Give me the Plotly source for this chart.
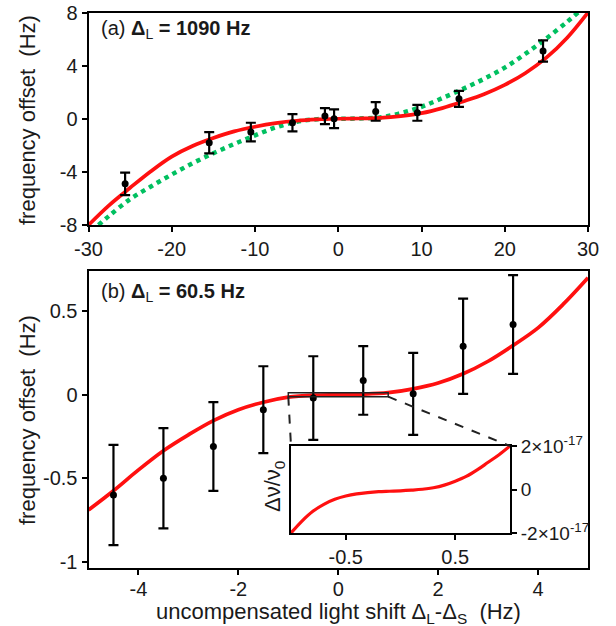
import plotly.graph_objects as go

# ---------------- data ----------------
# panel (a): Delta_L = 1090 Hz
a_x = [-25.6, -15.5, -10.5, -5.5, -1.6, -0.5, 4.5, 9.5, 14.5, 24.6]
a_y = [-4.9, -1.8, -1.0, -0.3, 0.2, 0.0, 0.55, 0.45, 1.5, 5.1]
a_err = [0.85, 0.8, 0.7, 0.65, 0.6, 0.7, 0.7, 0.6, 0.6, 0.8]

a_fit_x = [-30, -27.5, -25, -22.5, -20, -17.5, -15, -12.5, -10, -7.5, -5, -2.5, 0,
           2.5, 5, 7.5, 10, 12.5, 15, 17.5, 20, 22.5, 25, 27.5, 30]
a_fit_y = [-8.0, -6.5, -5.2, -3.95, -2.85, -2.05, -1.45, -0.95, -0.6, -0.33, -0.15, -0.05, 0.0,
           0.02, 0.07, 0.2, 0.42, 0.8, 1.3, 1.85, 2.55, 3.45, 4.6, 6.1, 8.0]

a_alt_x = [-28.8, -27.5, -25, -22.5, -20, -17.5, -15, -12.5, -10, -7.5, -5, -2.5, 0,
           2.5, 5, 7.5, 10, 12.5, 15, 17.5, 20, 22.5, 25, 27.5, 28.8]
a_alt_y = [-8.0, -7.3, -6.05, -5.1, -4.2, -3.35, -2.6, -1.9, -1.25, -0.65, -0.22, -0.03, 0.0,
           0.02, 0.1, 0.42, 0.9, 1.55, 2.25, 3.0, 3.85, 4.9, 6.05, 7.3, 8.0]

# panel (b): Delta_L = 60.5 Hz
b_x = [-4.5, -3.5, -2.5, -1.5, -0.5, 0.5, 1.5, 2.5, 3.5]
b_y = [-0.6, -0.5, -0.31, -0.09, -0.02, 0.085, 0.005, 0.29, 0.42]
b_err = [0.3, 0.3, 0.265, 0.26, 0.25, 0.205, 0.245, 0.285, 0.295]

b_fit_x = [-5, -4.5, -4, -3.5, -3, -2.5, -2, -1.5, -1, -0.5, 0,
           0.5, 1, 1.5, 2, 2.5, 3, 3.5, 4, 4.5, 5]
b_fit_y = [-0.69, -0.575, -0.45, -0.335, -0.24, -0.155, -0.09, -0.045, -0.015, -0.003, 0.0,
           0.003, 0.012, 0.035, 0.07, 0.125, 0.2, 0.295, 0.4, 0.54, 0.7]

# inset: fractional shift, in units of 1e-17
inset_x = [-1.0, -0.9, -0.8, -0.7, -0.6, -0.5, -0.4, -0.3, -0.2, -0.1, 0.0,
           0.1, 0.2, 0.3, 0.4, 0.5, 0.6, 0.7, 0.8, 0.9, 1.0]
inset_y = [-2.0, -1.45, -1.0, -0.68, -0.45, -0.3, -0.2, -0.14, -0.1, -0.08, -0.06,
           -0.03, 0.01, 0.08, 0.2, 0.38, 0.6, 0.9, 1.25, 1.6, 2.0]

a_xticks = [-30, -20, -10, 0, 10, 20, 30]
a_xtext = ["-30", "-20", "-10", "0", "10", "20", "30"]
a_yticks = [-8, -4, 0, 4, 8]
a_ytext = ["-8", "-4", "0", "4", "8"]
b_xticks = [-4, -2, 0, 2, 4]
b_xtext = ["-4", "-2", "0", "2", "4"]
b_yticks = [-1, -0.5, 0, 0.5]
b_ytext = ["-1", "-0.5", "0", "0.5"]
in_xticks = [-0.5, 0.5]
in_xtext = ["-0.5", "0.5"]
in_yticks = [-2, 0, 2]
in_ytext = ["-2\u00d710<sup>-17</sup>", "0", "2\u00d710<sup>-17</sup>"]

# ---------------- layout helpers ----------------
W, H = 616, 626
def px(xp):
    return xp / W
def py(yp):
    return 1 - yp / H

RED = "#ff1010"
GREEN = "#00c060"
FONT = "Liberation Sans, Arial, sans-serif"
TXT = "#1a1a1a"

a_dom_x = [px(88.5), px(588)]
a_dom_y = [py(225), py(12.5)]
b_dom_y = [py(567.5), py(271)]
in_dom_x = [px(291), px(510)]
in_dom_y = [py(533), py(446)]

a_range_x = [-30, 30]
a_range_y = [-8, 8]
b_range_x = [-5, 5]
b_range_y = [-1.034, 0.74]
in_range_x = [-1, 1]
in_range_y = [-2, 2]
box_half = 0.012

fig = go.Figure()

# panel (a)
fig.add_trace(go.Scatter(x=a_alt_x, y=a_alt_y, mode="lines", line=dict(color=GREEN, width=4.5, dash="dot", shape="spline"),
                         xaxis="x", yaxis="y", showlegend=False))
fig.add_trace(go.Scatter(x=a_fit_x, y=a_fit_y, mode="lines", line=dict(color=RED, width=3.7, shape="spline"),
                         xaxis="x", yaxis="y", showlegend=False))
fig.add_trace(go.Scatter(x=a_x, y=a_y, mode="markers", marker=dict(color="black", size=7),
                         error_y=dict(type="data", array=a_err, color="black", thickness=2.2, width=5),
                         xaxis="x", yaxis="y", showlegend=False))

# panel (b)
fig.add_trace(go.Scatter(x=b_fit_x, y=b_fit_y, mode="lines", line=dict(color=RED, width=3.7, shape="spline"),
                         xaxis="x2", yaxis="y2", showlegend=False))
fig.add_trace(go.Scatter(x=b_x, y=b_y, mode="markers", marker=dict(color="black", size=7),
                         error_y=dict(type="data", array=b_err, color="black", thickness=2.2, width=5),
                         xaxis="x2", yaxis="y2", showlegend=False))

# inset
fig.add_trace(go.Scatter(x=inset_x, y=inset_y, mode="lines", line=dict(color=RED, width=3.2, shape="spline"),
                         xaxis="x3", yaxis="y3", showlegend=False))

tickfont = dict(family=FONT, size=20, color=TXT)
axis_common = dict(showline=True, linecolor="black", linewidth=2, mirror=True, ticks="outside",
                   ticklen=5, tickwidth=2, tickcolor="black", showgrid=False, zeroline=False,
                   tickfont=tickfont, automargin=False, fixedrange=True)

fig.update_layout(
    width=W, height=H, margin=dict(l=0, r=0, t=0, b=0),
    paper_bgcolor="white", plot_bgcolor="white",
    xaxis=dict(domain=a_dom_x, range=a_range_x, tickvals=a_xticks, ticktext=a_xtext, anchor="y", **axis_common),
    yaxis=dict(domain=a_dom_y, range=a_range_y, tickvals=a_yticks, ticktext=a_ytext, anchor="x", **axis_common),
    xaxis2=dict(domain=a_dom_x, range=b_range_x, tickvals=b_xticks, ticktext=b_xtext, anchor="y2",
                ticklabelstandoff=-3, **axis_common),
    yaxis2=dict(domain=b_dom_y, range=b_range_y, tickvals=b_yticks, ticktext=b_ytext, anchor="x2", **axis_common),
    xaxis3=dict(domain=in_dom_x, range=in_range_x, tickvals=in_xticks, ticktext=in_xtext, anchor="y3", **axis_common),
    yaxis3=dict(domain=in_dom_y, range=in_range_y, tickvals=in_yticks, ticktext=in_ytext, anchor="x3", side="right",
                **axis_common),
)
fig.update_layout(yaxis3_tickfont_size=19, xaxis3_tickfont_size=20)

# white background behind inset
fig.add_shape(type="rect", xref="paper", yref="paper", x0=in_dom_x[0], x1=in_dom_x[1], y0=in_dom_y[0], y1=in_dom_y[1],
              fillcolor="white", line=dict(width=0), layer="below")

# zoom box on panel (b)
fig.add_shape(type="rect", xref="x2", yref="y2", x0=in_range_x[0], x1=in_range_x[1], y0=-box_half, y1=box_half,
              line=dict(color="#222", width=1.5))

# dashed connectors: box bottom corners -> inset top corners (converted into panel b data coords)
def to_b_x(fx):
    return b_range_x[0] + (fx - a_dom_x[0]) / (a_dom_x[1] - a_dom_x[0]) * (b_range_x[1] - b_range_x[0])
def to_b_y(fy):
    return b_range_y[0] + (fy - b_dom_y[0]) / (b_dom_y[1] - b_dom_y[0]) * (b_range_y[1] - b_range_y[0])

for bx, ix in [(in_range_x[0], in_dom_x[0]), (in_range_x[1], in_dom_x[1])]:
    fig.add_shape(type="line", xref="x2", yref="y2", x0=bx, y0=-box_half, x1=to_b_x(ix), y1=to_b_y(in_dom_y[1]),
                  line=dict(color="#222", width=2, dash="dash"))

# texts
ann_font = dict(family=FONT, size=20, color=TXT)
title_font = dict(family=FONT, size=22, color=TXT)
fig.add_annotation(x=px(99), y=py(30), xref="paper", yref="paper", xanchor="left", yanchor="middle", showarrow=False,
                   text="(a) <b>\u0394</b><sub>L</sub> <b>= 1090 Hz</b>", font=ann_font)
fig.add_annotation(x=px(99), y=py(292), xref="paper", yref="paper", xanchor="left", yanchor="middle", showarrow=False,
                   text="(b) <b>\u0394</b><sub>L</sub> <b>= 60.5 Hz</b>", font=ann_font)
fig.add_annotation(x=px(27), y=py(120), xref="paper", yref="paper", xanchor="center", yanchor="middle", showarrow=False,
                   textangle=-90, text="frequency offset\u00a0\u00a0(Hz)", font=title_font)
fig.add_annotation(x=px(27), y=py(420), xref="paper", yref="paper", xanchor="center", yanchor="middle", showarrow=False,
                   textangle=-90, text="frequency offset\u00a0\u00a0(Hz)", font=title_font)
fig.add_annotation(x=px(338), y=py(613), xref="paper", yref="paper", xanchor="center", yanchor="middle", showarrow=False,
                   text="uncompensated light shift \u0394<sub>L</sub>-\u0394<sub>S</sub>\u00a0\u00a0(Hz)", font=title_font)
fig.add_annotation(x=px(274), y=py(487), xref="paper", yref="paper", xanchor="center", yanchor="middle", showarrow=False,
                   textangle=-90, text="\u0394\u03bd/\u03bd<sub>0</sub>", font=title_font)

fig.write_html("out.html")
